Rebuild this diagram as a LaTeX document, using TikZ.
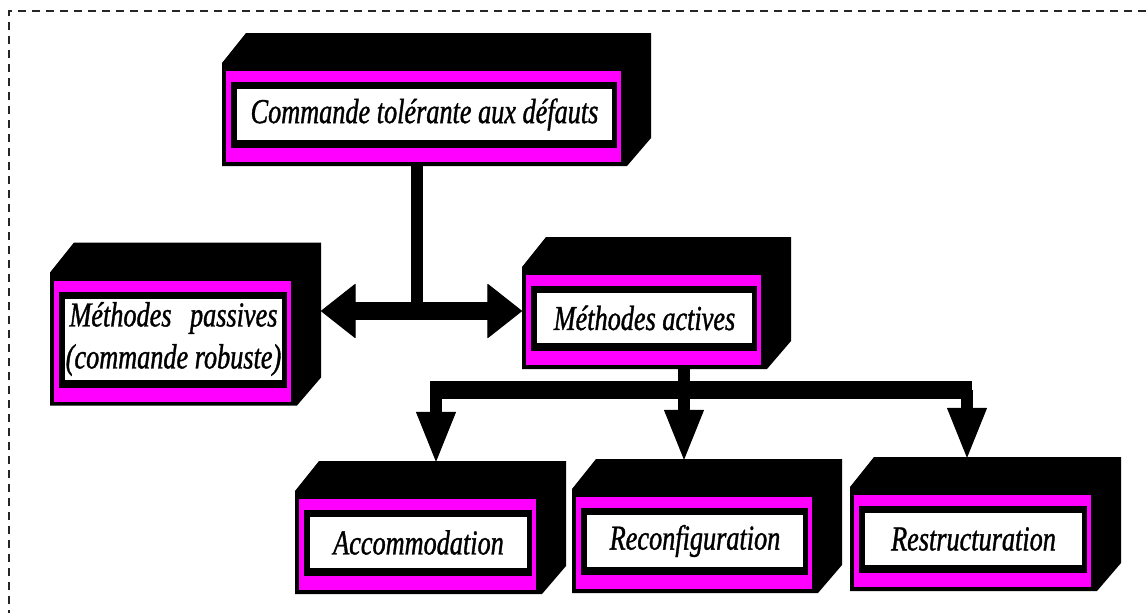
\documentclass[tikz,border=0pt]{standalone}
\usepackage{fontspec}
\setmainfont{Liberation Serif}[FakeStretch=0.75, FakeBold=1]
\usetikzlibrary{arrows.meta,backgrounds,calc}

\definecolor{rose}{RGB}{255,0,255}

% boite 3D noire + cadre rose autour du noeud #1
\newcommand{\bloc}[1]{%
  \begin{pgfonlayer}{background}
    \fill [black] ($(#1.south west)+(-15,-26)$) -- ($(#1.north west)+(-15,26)$)
      -- ($(#1.north west)+(9,56)$) -- ($(#1.north east)+(39,56)$)
      -- ($(#1.south east)+(39,2)$) -- ($(#1.south east)+(15,-26)$) -- cycle;
    \fill [rose] ($(#1.south west)+(-11,-22)$) rectangle ($(#1.north east)+(9,18)$);
    \fill [black] ($(#1.south west)+(-6,-8)$) rectangle ($(#1.north east)+(5,7)$);
  \end{pgfonlayer}}

\begin{document}
\begin{tikzpicture}[x=1pt,y=1pt]
  \tikzstyle{every node}+=[inner sep=0pt, outer sep=0pt]
  \tikzstyle{etiquette}=[fill=white, font=\fontsize{35}{42}\selectfont\itshape, minimum height=51pt]
  \tikzstyle{tige}=[black, line width=12pt]
  \tikzstyle{barre}=[black, line width=18pt]
  \tikzstyle{cadre}=[black!85, line width=1.5pt, dash pattern=on 8pt off 6pt]
  \tikzstyle{double fleche}=[barre, {Triangle[length=35pt, width=55pt, line width=1pt, round]}-{Triangle[length=35pt, width=55pt, line width=1pt, round]}]
  \tikzstyle{fleche bas}=[tige, -{Triangle[length=50pt, width=40pt, line width=1pt, round]}]

  \useasboundingbox (0,0) rectangle (1146,-613);
  \draw [cadre] (1146,-11) -| (9,-613);

  % les blocs
  \node [etiquette, minimum width=375pt] (ctd) at (424.5,-114.5) {Commande tolérante aux défauts};
  \node [etiquette, minimum width=217pt, minimum height=81pt, align=center] (passives) at (173.5,-339)
    {\makebox[208pt][s]{Méthodes passives}\\(commande robuste)};
  \node [etiquette, minimum width=215pt, minimum height=50pt] (actives) at (644.5,-318) {Méthodes actives};
  \node [etiquette, minimum width=217pt] (accom) at (418.5,-542.5) {Accommodation};
  \node [etiquette, minimum width=216pt, minimum height=52pt] (reconf) at (695,-541) {Reconfiguration};
  \node [etiquette, minimum width=217pt, minimum height=52pt] (restr) at (973.5,-539) {Restructuration};
  \bloc{ctd}
  \bloc{passives}
  \bloc{actives}
  \bloc{accom}
  \bloc{reconf}
  \bloc{restr}

  % points d'accroche sur les boites
  \coordinate (ctd-bas) at ($(ctd.south)+(0,-26)$);
  \coordinate (passives-d) at ($(passives.east)+(39,0)$);
  \coordinate (actives-g) at ($(actives.west)+(-15,0)$);
  \coordinate (actives-bas) at ($(actives.south)+(0,-26)$);
  \coordinate (accom-haut) at ($(accom.north)+(0,56)$);
  \coordinate (reconf-haut) at ($(reconf.north)+(0,56)$);
  \coordinate (restr-haut) at ($(restr.north)+(0,56)$);

  % liaisons
  \coordinate (j1) at (417,-311);
  \draw [tige] (j1 |- ctd-bas) -- (j1);
  \draw [double fleche] (passives-d |- j1) -- (actives-g |- j1);

  \coordinate (j2) at (684,-389.5);
  \coordinate (g1) at (436,-389.5);
  \coordinate (g3) at (967,-389.5);
  \draw [tige] (j2 |- actives-bas) -- (j2);
  \draw [barre] ($(g1)+(-6,0)$) -- ($(g3)+(5,0)$);
  \draw [fleche bas] (g1) -- (g1 |- accom-haut);
  \draw [fleche bas] (j2) -- (j2 |- reconf-haut);
  \draw [fleche bas] (g3) -- (g3 |- restr-haut);
\end{tikzpicture}
\end{document}
